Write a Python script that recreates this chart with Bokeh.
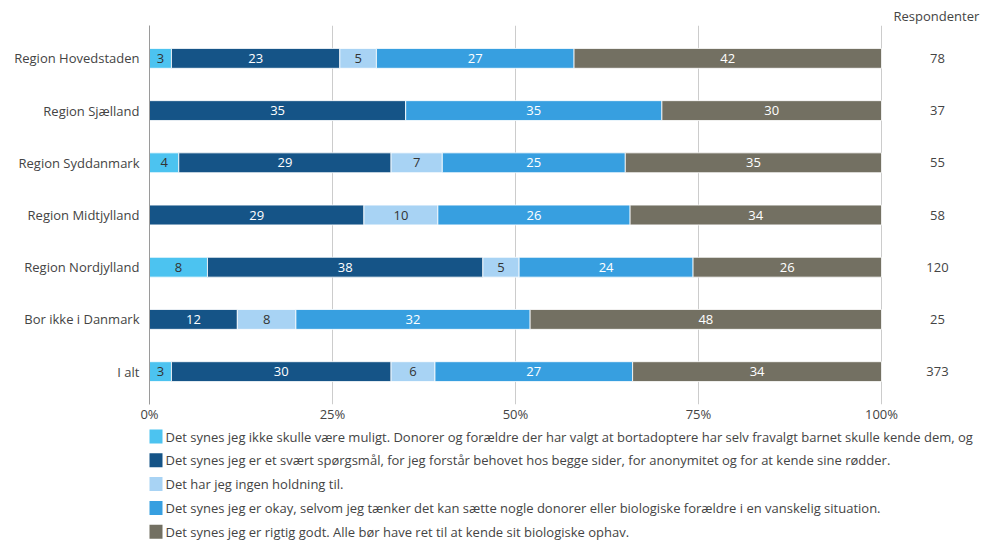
from bokeh.plotting import figure
from bokeh.layouts import column
from bokeh.models import (ColumnDataSource, FactorRange, Range1d, FixedTicker,
                          NumeralTickFormatter, Title)
from bokeh.embed import file_html
from bokeh.resources import INLINE
from bokeh.core.properties import value

regions = ["Region Hovedstaden", "Region Sjælland", "Region Syddanmark",
           "Region Midtjylland", "Region Nordjylland", "Bor ikke i Danmark", "I alt"]
s1 = [3, 0, 4, 0, 8, 0, 3]
s2 = [23, 35, 29, 29, 38, 12, 30]
s3 = [5, 0, 7, 10, 5, 8, 6]
s4 = [27, 35, 25, 26, 24, 32, 27]
s5 = [42, 30, 35, 34, 26, 48, 34]
respondents = [78, 37, 55, 58, 120, 25, 373]
x_ticks = [0, 0.25, 0.5, 0.75, 1.0]
series_labels = [
    "Det synes jeg ikke skulle være muligt. Donorer og forældre der har valgt at bortadoptere har selv fravalgt barnet skulle kende dem, og",
    "Det synes jeg er et svært spørgsmål, for jeg forstår behovet hos begge sider, for anonymitet og for at kende sine rødder.",
    "Det har jeg ingen holdning til.",
    "Det synes jeg er okay, selvom jeg tænker det kan sætte nogle donorer eller biologiske forældre i en vanskelig situation.",
    "Det synes jeg er rigtig godt. Alle bør have ret til at kende sit biologiske ophav.",
]
colors = ["#4cc3f0", "#155487", "#a8d3f4", "#379fe0", "#737062"]
label_colors = ["#333333", "white", "#333333", "white", "white"]
series = [s1, s2, s3, s4, s5]
keys = ["s1", "s2", "s3", "s4", "s5"]

FONT = "Open Sans"
FS = "13px"
TXT = "#444444"
W = 985
LEFT = 149
PX100 = 732  # pixels for 100 %
H1 = 425
H2 = 541 - H1

# normalised fractions per row
totals = [sum(s[i] for s in series) for i in range(len(regions))]
data = {"region": regions}
for k, s in zip(keys, series):
    data[k] = [v / t for v, t in zip(s, totals)]
src = ColumnDataSource(data)

x_end = (W - LEFT) / PX100
p = figure(width=W, height=H1, output_backend="svg", toolbar_location=None,
           y_range=FactorRange(factors=list(reversed(regions)), range_padding=0.037),
           x_range=Range1d(0, x_end),
           min_border_left=LEFT, min_border_right=0, min_border_top=25, min_border_bottom=0)
p.outline_line_color = None

renderers = p.hbar_stack(keys, y="region", height=0.38, source=src, color=colors,
                         line_color="white", line_width=0.8)

# bar value labels
lx, ly, lt, lc = [], [], [], []
for i, r in enumerate(regions):
    cum = 0.0
    for j, s in enumerate(series):
        w = s[i] / totals[i]
        if s[i] > 0:
            lx.append(cum + w / 2)
            ly.append(r)
            lt.append(str(s[i]))
            lc.append(label_colors[j])
        cum += w
p.text(x=lx, y=ly, text=lt, text_color=lc, text_align="center", text_baseline="middle",
       text_font=value(FONT), text_font_size=FS)

# respondent column
resp_x = (937 - LEFT) / PX100
p.text(x=[resp_x] * len(regions), y=regions, text=[str(v) for v in respondents],
       text_color=TXT, text_align="center", text_baseline="middle",
       text_font=value(FONT), text_font_size=FS)

p.add_layout(Title(text="Respondenter", align="left", offset=893 - LEFT, standoff=1,
                   text_font=FONT, text_font_size=FS, text_font_style="normal",
                   text_color=TXT), "above")

p.xaxis.ticker = FixedTicker(ticks=x_ticks)
p.xaxis.formatter = NumeralTickFormatter(format="0%")
p.xaxis.axis_line_color = None
p.xaxis.major_tick_line_color = None
p.xaxis.major_tick_out = 0
p.xaxis.major_tick_in = 0
p.xaxis.minor_tick_line_color = None
p.xaxis.major_label_standoff = 0
p.xaxis.major_label_text_font = FONT
p.xaxis.major_label_text_font_size = FS
p.xaxis.major_label_text_color = TXT

p.yaxis.axis_line_color = "#9a9a9a"
p.yaxis.major_tick_line_color = None
p.yaxis.major_tick_out = 0
p.yaxis.major_tick_in = 0
p.yaxis.minor_tick_line_color = None
p.yaxis.major_label_standoff = 10
p.yaxis.major_label_text_font = FONT
p.yaxis.major_label_text_font_size = FS
p.yaxis.major_label_text_color = TXT

p.ygrid.grid_line_color = None
p.xgrid.ticker = FixedTicker(ticks=x_ticks[1:])
p.xgrid.grid_line_color = "#cccccc"

# legend as its own strip below the chart, frame aligned with the chart's frame
n = len(series_labels)
idx = list(range(n))
first = 436 - H1   # centre of first legend row within the strip
step = 23.8
lg = figure(width=W, height=H2, output_backend="svg", toolbar_location=None,
            x_range=Range1d(0, W - LEFT),
            y_range=Range1d((H2 - first) / step, -first / step),
            min_border_left=LEFT, min_border_right=0, min_border_top=0, min_border_bottom=0,
            outline_line_color=None)
lg.axis.visible = False
lg.grid.visible = False
lg.rect(x=[6] * n, y=idx, width=14, height=14, width_units="screen",
        height_units="screen", fill_color=colors, line_color=None)
lg.text(x=[16] * n, y=idx, text=series_labels, text_color=TXT,
        text_baseline="middle", text_align="left",
        text_font=value(FONT), text_font_size=FS)

layout = column(p, lg, spacing=0)
open("out.html", "w").write(file_html(layout, INLINE))
